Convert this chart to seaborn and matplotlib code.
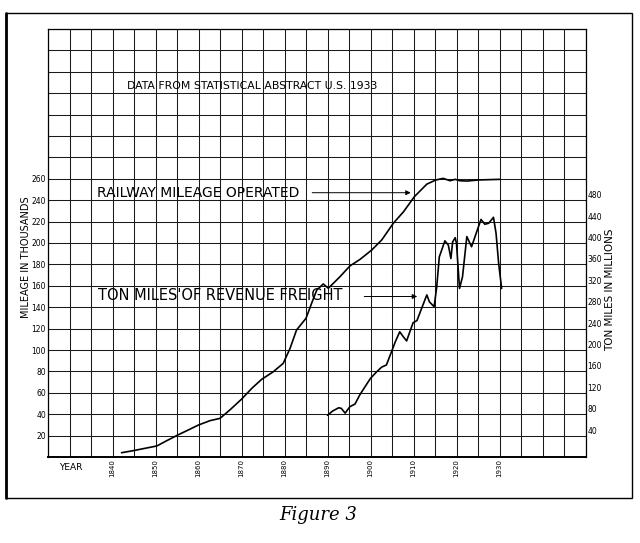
import numpy as np
import seaborn as sns
import matplotlib.pyplot as plt
from matplotlib.patches import Rectangle

# railway mileage operated, thousands of miles (left scale)
mileage_year = [1842.1, 1844.8, 1850.3, 1852.6, 1855.2, 1857.6, 1860.0, 1862.7, 1865.0, 1867.3,
                1870.0, 1872.4, 1874.7, 1877.4, 1879.7, 1881.3, 1882.8, 1885.0, 1886.3, 1887.5,
                1889.0, 1890.2, 1892.9, 1895.2, 1897.6, 1900.3, 1902.6, 1905.3, 1907.7, 1910.2,
                1913.1, 1915.2, 1916.9, 1918.5, 1919.7, 1920.8, 1922.4, 1925.1, 1930.1]
mileage = [4.0, 5.9, 10.3, 15.2, 20.6, 25.2, 29.9, 34.0, 36.1, 44.0,
           54.0, 64.2, 72.6, 79.7, 87.5, 101.6, 118.7, 129.6, 143.6, 156.0,
           161.7, 157.7, 168.5, 178.5, 184.8, 193.5, 202.8, 218.4, 229.3, 243.3,
           255.0, 258.9, 260.4, 258.2, 259.5, 258.2, 257.9, 258.9, 259.5]

# ton miles of revenue freight, millions (right scale)
freight_year = [1890.0, 1891.2, 1892.6, 1893.2, 1894.1, 1895.2, 1896.4, 1897.5, 1898.7, 1900.0,
                1901.4, 1902.6, 1903.7, 1904.9, 1905.8, 1906.8, 1907.7, 1908.4, 1909.9, 1910.8,
                1911.9, 1913.1, 1913.7, 1914.8, 1915.4, 1916.0, 1917.3, 1918.1, 1918.7, 1919.1,
                1919.7, 1920.0, 1920.7, 1921.4, 1922.4, 1923.5, 1924.7, 1925.7, 1926.6, 1927.5,
                1928.6, 1929.2, 1929.8, 1930.5]
freight = [78, 86, 92, 91, 82, 94, 99, 116, 131, 147,
           159, 168, 172, 197, 216, 234, 224, 217, 251, 255,
           278, 303, 290, 281, 318, 374, 404, 396, 371, 402,
           410, 399, 315, 337, 412, 393, 421, 444, 435, 437,
           448, 418, 362, 315]

year_ticks = list(range(1840, 1931, 10))
left_ticks = list(range(20, 261, 20))
right_ticks = list(range(40, 481, 40))

sns.set_style("white")
plt.rcParams['font.family'] = ['DejaVu Sans']
plt.rcParams['text.color'] = 'black'
plt.rcParams['xtick.color'] = 'black'
plt.rcParams['ytick.color'] = 'black'

fig = plt.figure(figsize=(6.4, 5.43), dpi=100)
ax = fig.add_axes([48 / 640, 1 - 457 / 543, 537.5 / 640, 428 / 543])

sns.lineplot(x=mileage_year, y=mileage, ax=ax, color='black', lw=1.2,
             estimator=None, sort=False)

ax.set_xlim(1825, 1950)
ax.set_ylim(0, 400)
ax.set_xticks(year_ticks)
ax.set_xticklabels([str(y) for y in year_ticks], rotation=90, fontsize=5)
ax.set_yticks(left_ticks)
ax.set_yticklabels([str(v) for v in left_ticks], fontsize=5.5)
ax.set_xticks(np.arange(1825, 1951, 5), minor=True)
ax.set_yticks(np.arange(0, 401, 20), minor=True)
ax.grid(which='both', color='#1a1a1a', lw=0.75)
ax.set_axisbelow(True)
ax.tick_params(which='both', length=0)
ax.tick_params(axis='y', pad=1.5)
ax.tick_params(axis='x', pad=1.5)
for s in ax.spines.values():
    s.set_color('black')
    s.set_linewidth(0.9)
ax.spines['bottom'].set_linewidth(1.4)
ax.set_xlabel('')
ax.set_ylabel('')

ax2 = ax.twinx()
sns.lineplot(x=freight_year, y=freight, ax=ax2, color='black', lw=1.2,
             estimator=None, sort=False)
ax2.set_ylim(0, 800)
ax2.set_yticks(right_ticks)
ax2.set_yticklabels([str(v) for v in right_ticks], fontsize=5.5, va='bottom')
ax2.tick_params(length=0, pad=1.5)
ax2.grid(False)
ax2.set_ylabel('')
for s in ax2.spines.values():
    s.set_visible(False)

# labels with arrows
ax.text(1836.3, 247, 'RAILWAY MILEAGE OPERATED', fontsize=10, va='center', ha='left')
ax.annotate('', xy=(1910.0, 247), xytext=(1885.8, 247),
            arrowprops=dict(arrowstyle='-|>', color='black', lw=0.7, mutation_scale=7))
ax.text(1836.7, 150.5, "TON MILES'OF REVENUE FREIGHT", fontsize=10.5, va='center', ha='left')
ax.annotate('', xy=(1911.5, 150), xytext=(1897.9, 150),
            arrowprops=dict(arrowstyle='-|>', color='black', lw=0.7, mutation_scale=7))
ax.text(1843.4, 346.5, 'DATA FROM STATISTICAL ABSTRACT U.S. 1933', fontsize=7.8,
        va='center', ha='left')

fig.text(71 / 640, 1 - 468 / 543, 'YEAR', fontsize=6.5, ha='center', va='center')
fig.text(26.5 / 640, 1 - 257 / 543, 'MILEAGE IN THOUSANDS', fontsize=7, rotation=90,
         ha='center', va='center')
fig.text(610 / 640, 1 - 290 / 543, 'TON MILES IN MILLIONS', fontsize=7.5, rotation=90,
         ha='center', va='center')

# outer frame
fig.patches.append(Rectangle((5.5 / 640, 1 - 498 / 543), 626.5 / 640, 485 / 543,
                             transform=fig.transFigure, fill=False, ec='black', lw=1.0))
fig.lines.append(plt.Line2D([5.5 / 640, 5.5 / 640], [1 - 498 / 543, 1 - 13 / 543],
                            transform=fig.transFigure, color='black', lw=2.0))

fig.text(318 / 640, 1 - 515 / 543, 'Figure 3', fontsize=13, family='DejaVu Serif',
         style='italic', ha='center', va='center')

fig.savefig('out.png', dpi=100)
